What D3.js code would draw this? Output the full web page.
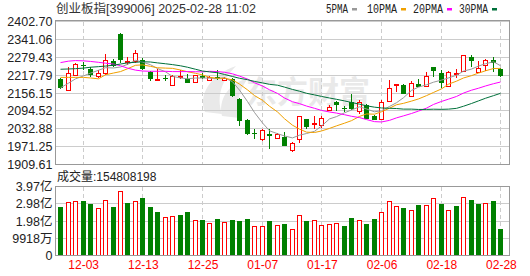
<!DOCTYPE html>
<html><head><meta charset="utf-8">
<script src="https://cdn.jsdelivr.net/npm/d3@7"></script>
<style>body{margin:0;background:#fff;} svg{display:block;}</style>
</head><body><svg id="c" width="530" height="276"></svg>
<script>
const dates = ["11-28","11-29","12-02","12-03","12-04","12-05","12-06","12-09","12-10","12-11","12-12","12-13","12-16","12-17","12-18","12-19","12-20","12-23","12-24","12-25","12-26","12-27","12-30","12-31","01-02","01-03","01-06","01-07","01-08","01-09","01-10","01-13","01-14","01-15","01-16","01-17","01-20","01-21","01-22","01-23","01-24","01-27","02-05","02-06","02-07","02-10","02-11","02-12","02-13","02-14","02-17","02-18","02-19","02-20","02-21","02-24","02-25","02-26","02-27","02-28"];
const open = [2205.2,2166.4,2217.8,2254.3,2240.6,2211.0,2224.7,2266.9,2359.3,2258.9,2264.6,2270.3,2229.2,2200.0,2208.7,2182.4,2209.8,2205.2,2192.7,2215.5,2201.8,2211.0,2199.5,2204.1,2136.7,2061.4,2017.0,1996.4,2015.8,1999.8,2005.5,1956.4,1993.0,2064.8,2046.5,2042.0,2095.6,2125.3,2105.9,2124.1,2090.0,2116.2,2078.5,2064.8,2128.7,2182.4,2184.7,2147.0,2188.1,2179.0,2245.2,2224.7,2179.0,2222.4,2230.4,2279.4,2228.1,2252.1,2270.3,2238.4];
const high = [2207.5,2247.5,2261.2,2264.6,2244.1,2236.1,2290.8,2273.7,2363.9,2279.4,2304.5,2276.0,2231.5,2238.4,2219.0,2217.8,2233.8,2221.2,2219.0,2224.7,2215.5,2236.1,2211.0,2207.5,2139.0,2067.1,2032.9,2032.9,2030.6,2019.2,2021.4,1987.3,2078.5,2067.1,2076.2,2076.2,2116.2,2127.6,2112.7,2153.9,2133.3,2119.6,2081.9,2133.3,2201.8,2188.1,2186.0,2196.1,2204.1,2226.9,2246.0,2233.8,2230.4,2238.4,2287.4,2287.4,2268.0,2272.6,2281.7,2241.8];
const low = [2169.8,2164.0,2215.5,2236.1,2211.0,2208.7,2219.0,2247.5,2261.2,2253.2,2261.2,2236.1,2196.1,2199.0,2196.1,2179.0,2204.1,2190.4,2190.4,2204.1,2197.2,2201.8,2197.2,2142.4,2042.0,2012.0,1998.7,1990.7,1964.4,1998.7,1973.6,1953.0,1982.7,2030.6,2030.6,2036.3,2093.3,2095.6,2092.2,2096.7,2085.3,2064.8,2062.5,2062.5,2126.4,2158.4,2151.6,2144.7,2176.7,2176.7,2211.0,2173.3,2175.5,2207.5,2226.9,2247.5,2224.7,2230.4,2226.9,2211.0];
const close = [2173.3,2224.7,2255.5,2250.9,2219.0,2222.4,2269.2,2250.9,2268.0,2263.4,2293.1,2238.4,2205.0,2203.0,2206.4,2214.0,2212.0,2190.4,2215.5,2207.5,2211.0,2204.1,2207.5,2144.7,2062.5,2014.5,2015.5,2027.2,2010.0,2012.0,1975.8,1981.6,2073.9,2038.6,2049.9,2067.1,2104.7,2113.9,2103.6,2099.0,2121.9,2067.1,2064.8,2121.9,2173.3,2185.8,2153.9,2190.4,2179.0,2213.2,2230.4,2190.4,2228.1,2224.7,2284.0,2265.7,2241.8,2269.2,2258.9,2215.5];
// volume in 亿 (100 million shares)
const volume = [2.77,3.04,3.10,3.12,2.96,2.69,3.15,2.77,3.67,3.00,3.10,3.29,2.77,2.48,2.17,2.23,2.31,2.48,2.00,2.02,1.85,2.08,1.90,2.02,1.96,2.08,1.67,1.65,1.96,1.71,1.79,1.50,2.29,1.96,2.00,1.71,1.79,1.83,1.67,2.13,2.00,1.79,2.08,2.46,3.10,2.81,2.71,2.58,2.88,2.88,3.27,2.96,2.58,2.83,3.33,3.17,2.96,2.98,3.12,1.548];
const ma5 = [2174,2190,2205,2215,2224.7,2234.5,2243.4,2242.5,2245.9,2254.8,2268.9,2262.8,2253.6,2240.6,2229.2,2213.4,2208.1,2205.2,2207.7,2207.9,2207.3,2205.7,2209.1,2195.0,2166.0,2126.7,2088.9,2052.9,2025.9,2015.8,2008.1,2001.3,2010.7,2016.4,2024.0,2042.2,2066.8,2074.8,2087.8,2097.7,2108.6,2101.1,2091.3,2094.9,2109.8,2122.6,2139.9,2165.1,2176.5,2184.5,2193.4,2200.7,2208.2,2217.4,2231.5,2238.6,2248.9,2257.1,2263.9,2250.2];
const ma10 = [2210,2210,2210,2210,2208,2205,2219,2225,2230,2239.7,2251.7,2253.1,2248.0,2243.2,2242.0,2241.1,2235.4,2229.4,2224.1,2218.5,2210.3,2206.9,2207.1,2201.3,2186.9,2167.0,2147.3,2131.0,2110.5,2090.9,2067.4,2045.1,2031.8,2021.2,2019.9,2025.2,2034.1,2042.8,2052.1,2060.8,2075.4,2084.0,2083.1,2091.4,2103.7,2115.6,2120.5,2128.2,2135.7,2147.1,2158.0,2170.3,2186.6,2196.9,2208.0,2216.0,2224.8,2232.7,2240.6,2240.9];
const ma20 = [2261,2266,2268,2267,2265,2262,2259,2256,2250,2242,2235,2232,2231,2231,2231,2230,2230,2230,2229.5,2229.1,2231.0,2230.0,2227.6,2222.3,2214.5,2204.1,2191.4,2180.2,2167.3,2154.7,2138.9,2126.0,2119.5,2111.2,2103.4,2096.1,2090.7,2086.9,2081.3,2075.9,2071.4,2064.6,2057.4,2056.3,2061.8,2070.4,2077.3,2085.5,2093.9,2104.0,2116.7,2127.1,2134.9,2144.2,2155.9,2165.8,2172.6,2180.4,2188.2,2194.0];
const ma30 = [2238,2239,2240,2242,2245,2247,2249,2252,2256,2260,2262,2264,2263,2260,2257,2254,2250,2245,2238,2232,2229,2226,2220,2213,2207,2202,2196,2191,2186,2183.1,2176.5,2168.4,2162.3,2155.2,2149.6,2144.4,2138.9,2134.4,2128.9,2123.4,2117.7,2112.0,2107.3,2104.6,2103.5,2102.6,2100.6,2100.6,2099.4,2099.6,2100.3,2099.8,2100.5,2103.2,2110.5,2120,2129,2138,2147,2155];
const priceTicks = [1909.61,1971.25,2032.88,2094.52,2156.15,2217.79,2279.43,2341.06,2402.70];
const volTicks = [0,0.9918,1.9836,2.9754,3.9672];
const volTickLabels = ["0","9918万","1.98亿","2.98亿","3.97亿"];
const dateTicks = ["12-03","12-13","12-25","01-07","01-17","02-06","02-18","02-28"];
const maNames = ["5PMA","10PMA","20PMA","30PMA"];
const maColors = ["#999999","#f0a000","#ff00ff","#00703a"];
const title = "创业板指[399006] 2025-02-28 11:02";
const volLabel = "成交量:154808198";

const svg = d3.select('#c');
const L = 55.5, R = 509.5, mT = 21.5, mB = 164.5, vT = 186.5, vB = 255.5;
const RED = "#ff0000", GREEN = "#008000";
const FONT = "'Liberation Sans', Arial, 'Noto Sans CJK SC', sans-serif";

const x = d3.scaleLinear().domain([0, dates.length - 1]).range([60.3, 500.4]);
const y = d3.scaleLinear().domain([priceTicks[0], priceTicks[priceTicks.length - 1]]).range([mB, mT]);
const yv = d3.scaleLinear().domain([0, volTicks[volTicks.length - 1]]).range([vB, vT]);
const px = i => Math.round(x(i));
const snap = v => Math.round(v - 0.5) + 0.5;

// watermark
const wm = svg.append('g').attr('fill', '#e9e9e9');
wm.append('path').attr('d', 'M205,112 C198,95 210,75 236,66 C222,80 216,96 222,114 Z');
wm.append('path').attr('d', 'M222,116 C218,100 228,84 248,78 C238,92 236,104 240,118 Z');
wm.append('text').attr('x', 246).attr('y', 103).attr('font-size', 31).attr('font-weight', 'bold')
  .attr('font-family', "'Noto Sans CJK SC', sans-serif").text('东方财富');

// horizontal gridlines
const grid = svg.append('g').attr('stroke', '#cccccc').attr('stroke-width', 1).attr('shape-rendering', 'crispEdges');
priceTicks.forEach(t => grid.append('line').attr('x1', L).attr('x2', R).attr('y1', snap(y(t))).attr('y2', snap(y(t))));
volTicks.forEach(t => grid.append('line').attr('x1', L).attr('x2', R).attr('y1', snap(yv(t))).attr('y2', snap(yv(t))));
// vertical dashed gridlines
const tickIdx = dateTicks.map(d => dates.indexOf(d));
tickIdx.forEach(i => {
  [[mT, mB], [vT, vB]].forEach(([a, b]) => grid.append('line').attr('x1', px(i) + 0.5).attr('x2', px(i) + 0.5)
    .attr('y1', a).attr('y2', b).attr('stroke-dasharray', '4,3'));
});

// candles
const cg = svg.append('g').attr('shape-rendering', 'crispEdges');
dates.forEach((d, i) => {
  const up = close[i] >= open[i];
  const col = up ? RED : GREEN;
  const c = px(i);
  cg.append('line').attr('x1', c + 0.5).attr('x2', c + 0.5).attr('y1', y(high[i])).attr('y2', y(low[i])).attr('stroke', col);
  const top = y(Math.max(open[i], close[i])), bot = y(Math.min(open[i], close[i]));
  if (up) {
    cg.append('rect').attr('x', c - 1.5).attr('y', snap(top)).attr('width', 4).attr('height', Math.max(1, Math.round(bot - top)))
      .attr('fill', '#fff').attr('stroke', col);
  } else {
    cg.append('rect').attr('x', c - 2).attr('y', Math.round(top)).attr('width', 5).attr('height', Math.max(1, Math.round(bot - top)))
      .attr('fill', col);
  }
});

// moving averages
[ma5, ma10, ma20, ma30].forEach((arr, k) => {
  svg.append('path').datum(arr).attr('fill', 'none').attr('stroke', maColors[k]).attr('stroke-width', 1)
    .attr('d', d3.line().x((v, i) => px(i) + 0.5).y(v => y(v)));
});

// volume bars
const vg = svg.append('g').attr('shape-rendering', 'crispEdges');
volume.forEach((v, i) => {
  const up = i === 0 ? close[i] >= open[i] : close[i] >= close[i - 1];
  const c = px(i);
  const top = yv(v);
  if (up) {
    vg.append('rect').attr('x', c - 1.5).attr('y', snap(top)).attr('width', 4).attr('height', Math.round(vB - top) - 0.5)
      .attr('fill', '#fff').attr('stroke', RED);
  } else {
    vg.append('rect').attr('x', c - 2).attr('y', Math.round(top)).attr('width', 5).attr('height', Math.round(vB - top))
      .attr('fill', GREEN);
  }
});

// frames
const fr = svg.append('g').attr('fill', 'none').attr('stroke', '#999').attr('shape-rendering', 'crispEdges');
fr.append('rect').attr('x', L).attr('y', mT - 1).attr('width', R - L).attr('height', mB - mT + 1);
fr.append('rect').attr('x', L).attr('y', vT).attr('width', R - L).attr('height', vB - vT);

// axes
function styleAxis(g, color) {
  g.select('.domain').remove();
  g.selectAll('line').remove();
  g.selectAll('text').attr('font-family', FONT).attr('font-size', 12.5).attr('fill', color);
}
svg.append('g').attr('transform', `translate(${L - 3},0)`)
  .call(d3.axisLeft(y).tickValues(priceTicks).tickFormat(d3.format('.2f')).tickSize(0).tickPadding(0))
  .call(g => styleAxis(g, '#222'));
svg.append('g').attr('transform', `translate(${L - 3},0)`)
  .call(d3.axisLeft(yv).tickValues(volTicks).tickFormat((d, i) => volTickLabels[i]).tickSize(0).tickPadding(0))
  .call(g => styleAxis(g, '#222'));
svg.append('g').attr('transform', `translate(0.5,${vB + 4})`)
  .call(d3.axisBottom(x).tickValues(tickIdx).tickFormat(i => dates[i]).tickSize(0).tickPadding(0))
  .call(g => { styleAxis(g, RED); g.selectAll('text').attr('font-size', 12).attr('dy', '0.8em'); });

// title
svg.append('text').attr('x', 56).attr('y', 13).attr('font-family', FONT).attr('font-size', 12.5).attr('fill', '#333').text(title);
svg.append('text').attr('x', 57).attr('y', 181).attr('font-family', FONT).attr('font-size', 12).attr('fill', '#222').text(volLabel);

// legend
const legX = [326, 367, 413, 459];
const legW = [22, 30, 30, 29];
maNames.forEach((n, k) => {
  svg.append('text').attr('x', legX[k]).attr('y', 13).attr('font-family', "'Liberation Mono', monospace").attr('font-size', 12.5)
    .attr('textLength', legW[k]).attr('lengthAdjust', 'spacingAndGlyphs').attr('fill', '#222').text(n);
  svg.append('rect').attr('x', legX[k] + legW[k] + 4).attr('y', 8).attr('width', 5).attr('height', 2.5).attr('fill', maColors[k]);
});
</script></body></html>
